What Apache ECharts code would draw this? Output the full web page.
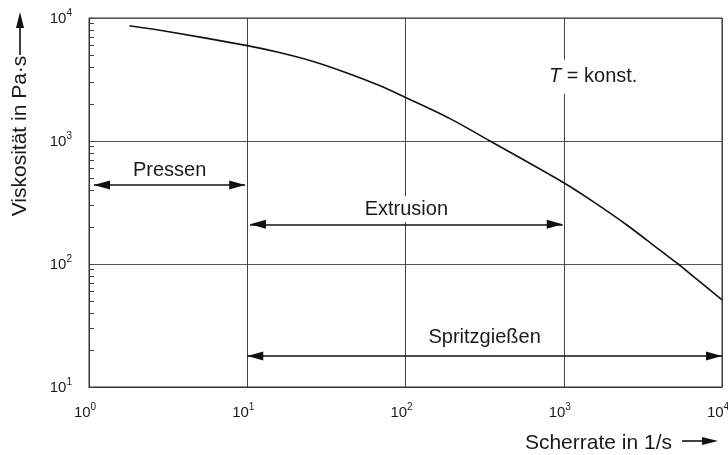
<!DOCTYPE html>
<html><head><meta charset="utf-8">
<script src="https://cdn.jsdelivr.net/npm/echarts@6/dist/echarts.min.js"></script>
<style>html,body{margin:0;padding:0;background:#fff}#c{width:728px;height:455px}</style>
</head><body><div id="c"></div>
<script>
// Data
const shearRate = [1.8, 3, 10, 15.7, 25.5, 41.4, 67.3, 100, 191, 342, 1000, 1542, 2506, 4074, 5290, 6610, 10000];
const viscosity = [8650, 7840, 5960, 5260, 4470, 3625, 2850, 2260, 1520, 1000, 458, 320, 207.5, 128.8, 100, 79, 51];
const xTickExponents = [0, 1, 2, 3, 4];
const yTickExponents = [1, 2, 3, 4];
const rangeLabels = ['Pressen', 'Extrusion', 'Spritzgießen'];
const rangeFrom = [1.075, 10.4, 10];
const rangeTo = [9.7, 986, 10000];
const rangeLevel = [438, 210, 17.9];
const notePos = [1535, 3335];

const FONT = '"Liberation Sans", Arial, Helvetica, sans-serif';
const chart = echarts.init(document.getElementById('c'), null, {renderer: 'canvas'});

function powLabel(v) {
  const e = Math.round(Math.log10(v));
  return '{b|10}{s|' + e + '}';
}
const richPow = {
  b: {fontSize: 15, fontFamily: FONT, color: '#1a1a1a', verticalAlign: 'bottom', lineHeight: 16},
  s: {fontSize: 10, fontFamily: FONT, color: '#1a1a1a', verticalAlign: 'bottom', lineHeight: 10, padding: [0, 0, 8, 0]}
};

// arrow head whose tip sits at the centre of its box, so the tip lands on the end point
const ARROW = 'path://M0,0 M0,16 L4.5,32 L-4.5,32 Z';

const labelFont = {fontSize: 20, fontFamily: FONT, color: '#1a1a1a'};
const markLineData = rangeLabels.map((name, i) => [
  {coord: [rangeFrom[i], rangeLevel[i]],
   label: {show: true, formatter: name, position: 'insideMiddleTop', distance: i === 2 ? 5 : 2,
           backgroundColor: '#fff', padding: [3, 6, 3, 6], lineHeight: 20, ...labelFont}},
  {coord: [rangeTo[i], rangeLevel[i]]}
]);

const option = {
  animation: false,
  backgroundColor: '#fff',
  grid: {left: 89, right: 6, top: 18, bottom: 68, containLabel: false, outerBoundsMode: 'none',
         show: true, borderColor: '#333', borderWidth: 1, backgroundColor: 'transparent'},
  xAxis: {
    type: 'log', logBase: 10, min: 1, max: 10000,
    axisLine: {show: true, lineStyle: {color: '#333', width: 1}},
    axisTick: {show: false},
    splitLine: {show: true, lineStyle: {color: '#444', width: 1}},
    axisLabel: {margin: 17, formatter: powLabel, rich: richPow, padding: [0, 8, 0, 0]}
  },
  yAxis: {
    type: 'log', logBase: 10, min: 10, max: 10000,
    axisLine: {show: true, lineStyle: {color: '#333', width: 1}},
    axisTick: {show: true, inside: true, length: 5, lineStyle: {color: '#444'}},
    minorTick: {show: true, splitNumber: 9, length: 5, lineStyle: {color: '#444', width: 1}},
    splitLine: {show: true, lineStyle: {color: '#555', width: 1}},
    axisLabel: {margin: 17, formatter: powLabel, rich: richPow}
  },
  series: [{
    type: 'line',
    data: shearRate.map((x, i) => [x, viscosity[i]]),
    smooth: 0.3,
    symbol: 'none',
    lineStyle: {color: '#111', width: 1.6},
    z: 3,
    markLine: {
      silent: true,
      symbol: [ARROW, ARROW],
      symbolSize: [9, 32],
      lineStyle: {color: '#111', width: 1.6, type: 'solid'},
      data: markLineData
    },
    markPoint: {
      silent: true,
      symbol: 'circle', symbolSize: 0,
      data: [{coord: notePos,
        label: {show: true, position: 'inside',
          formatter: '{i|T}{n| = konst.}',
          backgroundColor: '#fff', padding: [7, 6, 7, 6],
          rich: {i: {...labelFont, fontStyle: 'italic'}, n: {...labelFont}}}}]
    }
  }],
  graphic: [
    {type: 'text', x: 20, y: 136, rotation: Math.PI / 2,
     style: {text: 'Viskosität in Pa·s', fill: '#1a1a1a', font: '21px ' + FONT, align: 'center', verticalAlign: 'middle'}},
    {type: 'line', shape: {x1: 20, y1: 55, x2: 20, y2: 26}, style: {stroke: '#111', lineWidth: 1.6}},
    {type: 'polygon', shape: {points: [[20, 12], [16, 28], [24, 28]]}, style: {fill: '#111'}},
    {type: 'text', x: 672, y: 443,
     style: {text: 'Scherrate in 1/s', fill: '#1a1a1a', font: '21px ' + FONT, align: 'right', verticalAlign: 'middle'}},
    {type: 'line', shape: {x1: 682, y1: 441, x2: 706, y2: 441}, style: {stroke: '#111', lineWidth: 1.6}},
    {type: 'polygon', shape: {points: [[718, 441], [702, 437], [702, 445]]}, style: {fill: '#111'}}
  ]
};
chart.setOption(option);
</script></body></html>
